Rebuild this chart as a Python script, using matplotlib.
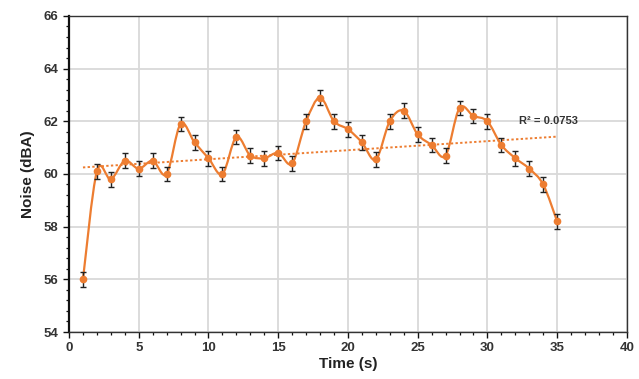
import numpy as np
import matplotlib.pyplot as plt
from matplotlib.path import Path
from matplotlib.patches import PathPatch
from matplotlib.ticker import MultipleLocator

plt.rcParams["font.family"] = ["Liberation Sans", "DejaVu Sans"]

time_s = list(range(1, 36))
noise_dba = [56.0, 60.1, 59.8, 60.5, 60.2, 60.5, 60.0, 61.9, 61.2, 60.6,
             60.0, 61.4, 60.7, 60.6, 60.8, 60.4, 62.0, 62.9, 62.0, 61.7,
             61.2, 60.55, 62.0, 62.4, 61.5, 61.1, 60.7, 62.5, 62.2, 62.0,
             61.1, 60.6, 60.2, 59.6, 58.2]
noise_err = [0.28] * len(noise_dba)
r2_label = "R\u00b2 = 0.0753"

orange = "#ED7D31"


def smooth_path(x, y):
    # Catmull-Rom style bezier through points (like Excel's smoothed line)
    x = np.asarray(x, float)
    y = np.asarray(y, float)
    verts = [(x[0], y[0])]
    codes = [Path.MOVETO]
    n = len(x)
    for i in range(n - 1):
        p0 = (x[i - 1], y[i - 1]) if i > 0 else (x[i], y[i])
        p1 = (x[i], y[i])
        p2 = (x[i + 1], y[i + 1])
        p3 = (x[i + 2], y[i + 2]) if i + 2 < n else (x[i + 1], y[i + 1])
        c1 = (p1[0] + (p2[0] - p0[0]) / 6, p1[1] + (p2[1] - p0[1]) / 6)
        c2 = (p2[0] - (p3[0] - p1[0]) / 6, p2[1] - (p3[1] - p1[1]) / 6)
        verts += [c1, c2, p2]
        codes += [Path.CURVE4] * 3
    return Path(verts, codes)


fig = plt.figure(figsize=(6.39, 3.79), dpi=100)
ax = fig.add_axes([0.108, 0.124, 0.873, 0.834])

ax.add_patch(PathPatch(smooth_path(time_s, noise_dba), facecolor="none",
                       edgecolor=orange, linewidth=1.6, zorder=3))
ax.errorbar(time_s, noise_dba, yerr=noise_err, fmt="o", color=orange,
            markersize=4.5, ecolor="#222222", elinewidth=1.0, capsize=2.2,
            capthick=1.0, zorder=4)

# linear trendline
coef = np.polyfit(time_s, noise_dba, 1)
tx = np.array([time_s[0], time_s[-1]])
ax.plot(tx, np.polyval(coef, tx), linestyle=(0, (1.2, 1.2)), color=orange,
        linewidth=1.4, zorder=2)
ax.text(32.3, 62.0, r2_label, fontsize=8, fontweight="bold", color="#333333",
        va="center", ha="left")

ax.set_xlim(0, 40)
ax.set_ylim(54, 66)
ax.xaxis.set_major_locator(MultipleLocator(5))
ax.xaxis.set_minor_locator(MultipleLocator(1))
ax.yaxis.set_major_locator(MultipleLocator(2))
ax.yaxis.set_minor_locator(MultipleLocator(0.4))
ax.grid(True, which="major", color="#d9d9d9", linewidth=1.3, zorder=0)
ax.set_axisbelow(True)

for side in ["top", "right", "bottom"]:
    ax.spines[side].set_color("#333333")
    ax.spines[side].set_linewidth(1.0)
ax.spines["left"].set_color("#111111")
ax.spines["left"].set_linewidth(1.6)

ax.tick_params(axis="both", which="major", direction="out", length=4,
               width=1.0, labelsize=9.5, colors="#111111")
ax.tick_params(axis="both", which="minor", direction="out", length=2.5,
               width=0.9, colors="#111111")
for lbl in ax.get_xticklabels() + ax.get_yticklabels():
    lbl.set_fontweight("bold")
    lbl.set_color("#333333")

ax.set_xlabel("Time (s)", fontsize=11, fontweight="bold", color="#222222",
              labelpad=2)
ax.set_ylabel("Noise (dBA)", fontsize=11, fontweight="bold", color="#222222",
              labelpad=6)

fig.savefig("out.png", dpi=100)
